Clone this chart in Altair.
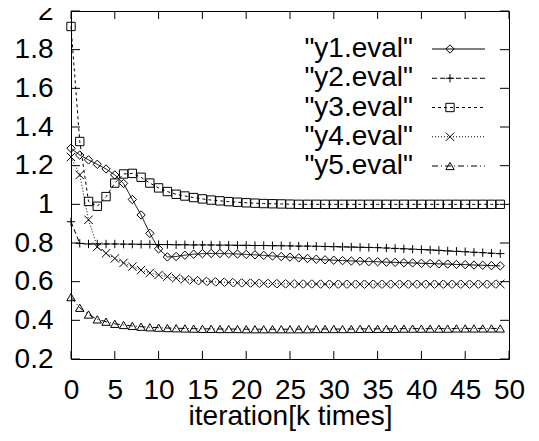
import altair as alt
import pandas as pd

iterations = list(range(50))

y1 = [1.29, 1.255, 1.23, 1.207, 1.183, 1.152, 1.108, 1.025, 0.945, 0.85,
      0.77, 0.728, 0.73, 0.737, 0.742, 0.745, 0.746, 0.746, 0.745, 0.743,
      0.741, 0.739, 0.736, 0.733, 0.73, 0.727, 0.723, 0.72, 0.716, 0.713,
      0.711, 0.709, 0.707, 0.706, 0.704, 0.703, 0.701, 0.7, 0.698, 0.697,
      0.695, 0.694, 0.692, 0.691, 0.689, 0.688, 0.686, 0.685, 0.683, 0.682]
y2 = [0.91, 0.798, 0.795, 0.795, 0.795, 0.795, 0.794, 0.794, 0.793, 0.793,
      0.792, 0.792, 0.791, 0.791, 0.79, 0.79, 0.79, 0.789, 0.789, 0.788,
      0.788, 0.787, 0.787, 0.786, 0.786, 0.785, 0.784, 0.784, 0.783, 0.782,
      0.781, 0.78, 0.779, 0.778, 0.777, 0.776, 0.774, 0.772, 0.77, 0.768,
      0.766, 0.764, 0.762, 0.759, 0.757, 0.755, 0.752, 0.75, 0.747, 0.745]
y3 = [1.92, 1.325, 1.015, 0.99, 1.04, 1.11, 1.157, 1.16, 1.14, 1.11,
      1.085, 1.066, 1.052, 1.043, 1.035, 1.028, 1.022, 1.018, 1.014, 1.011,
      1.008, 1.006, 1.004, 1.003, 1.002, 1.001, 1.0, 1.0, 1.0, 1.0,
      1.0, 1.0, 1.0, 1.0, 1.0, 1.0, 1.0, 1.0, 1.0, 1.0,
      1.0, 1.0, 1.0, 1.0, 1.0, 1.0, 1.0, 1.0, 1.0, 1.0]
y4 = [1.245, 1.152, 0.92, 0.78, 0.747, 0.72, 0.697, 0.678, 0.66, 0.645,
      0.635, 0.626, 0.618, 0.612, 0.607, 0.603, 0.6, 0.598, 0.596, 0.594,
      0.593, 0.592, 0.591, 0.59, 0.589, 0.589, 0.588, 0.588, 0.588, 0.587,
      0.587, 0.587, 0.587, 0.587, 0.587, 0.587, 0.587, 0.587, 0.587, 0.587,
      0.587, 0.587, 0.587, 0.587, 0.587, 0.587, 0.587, 0.587, 0.587, 0.588]
y5 = [0.52, 0.465, 0.43, 0.405, 0.393, 0.382, 0.376, 0.371, 0.367, 0.364,
      0.362, 0.36, 0.359, 0.358, 0.357, 0.356, 0.356, 0.355, 0.355, 0.355,
      0.354, 0.354, 0.354, 0.354, 0.354, 0.354, 0.354, 0.354, 0.355, 0.355,
      0.355, 0.355, 0.355, 0.356, 0.356, 0.356, 0.356, 0.356, 0.357, 0.357,
      0.357, 0.357, 0.357, 0.357, 0.358, 0.358, 0.358, 0.358, 0.358, 0.358]

series_names = ['"y1.eval"', '"y2.eval"', '"y3.eval"', '"y4.eval"', '"y5.eval"']
x_ticks = list(range(0, 51, 5))
y_ticks = [0.2, 0.4, 0.6, 0.8, 1.0, 1.2, 1.4, 1.6, 1.8, 2.0]

rows = []
for name, vals in zip(series_names, [y1, y2, y3, y4, y5]):
    for it, v in zip(iterations, vals):
        rows.append({"iteration": it, "value": v, "series": name})
df = pd.DataFrame(rows)
legend_df = pd.DataFrame({"series": series_names})
xt_df = pd.DataFrame({"t": x_ticks})
yt_df = pd.DataFrame({"t": y_ticks})

W, H = 438, 348
FONT = "Liberation Sans"
FS = 28

shape_scale = alt.Scale(
    domain=series_names,
    range=["diamond", "M-1,0L1,0M0,-1L0,1", "square", "M-1,-1L1,1M-1,1L1,-1", "triangle-up"],
)
dash_scale = alt.Scale(domain=series_names, range=[[1, 0], [5, 3], [3, 3], [1, 2], [6, 3, 1, 3]])

xs = alt.Scale(domain=[0, 50], nice=False, zero=False)
ys = alt.Scale(domain=[0.2, 2.0], nice=False, zero=False)

x_axis = alt.Axis(values=x_ticks, title="iteration[k times]", domain=False, ticks=False, tickSize=0,
                  grid=False, labelPadding=17, labelFontSize=FS, titleFontSize=FS,
                  titleFontWeight="normal", labelFont=FONT, titleFont=FONT, labelColor="black",
                  titleColor="black", titlePadding=-2, labelFlush=False, labelOverlap=False)
y_axis = alt.Axis(values=y_ticks, title=None, domain=False, ticks=False, tickSize=0, grid=False,
                  labelPadding=18, labelFontSize=FS, labelFont=FONT, labelColor="black",
                  labelFlush=False, labelOverlap=False, format="~g")

lines = alt.Chart(df).mark_line(color="black", strokeWidth=1).encode(
    x=alt.X("iteration:Q", scale=xs, axis=x_axis),
    y=alt.Y("value:Q", scale=ys, axis=y_axis),
    strokeDash=alt.StrokeDash("series:N", scale=dash_scale, legend=None),
    detail="series:N",
)
points = alt.Chart(df).mark_point(filled=False, color="black", strokeWidth=1, size=70, opacity=1).encode(
    x=alt.X("iteration:Q", scale=xs, axis=x_axis),
    y=alt.Y("value:Q", scale=ys, axis=y_axis),
    shape=alt.Shape("series:N", scale=shape_scale, legend=None),
)

tick_style = dict(color="black", strokeWidth=1)
xt_bottom = alt.Chart(xt_df).mark_rule(**tick_style).encode(
    x=alt.X("t:Q", scale=xs, axis=x_axis), y=alt.value(H), y2=alt.value(H - 8))
xt_top = alt.Chart(xt_df).mark_rule(**tick_style).encode(
    x=alt.X("t:Q", scale=xs, axis=x_axis), y=alt.value(0), y2=alt.value(8))
yt_left = alt.Chart(yt_df).mark_rule(**tick_style).encode(
    y=alt.Y("t:Q", scale=ys, axis=y_axis), x=alt.value(0), x2=alt.value(9))
yt_right = alt.Chart(yt_df).mark_rule(**tick_style).encode(
    y=alt.Y("t:Q", scale=ys, axis=y_axis), x=alt.value(W), x2=alt.value(W - 9))

main = alt.layer(lines, points, xt_bottom, xt_top, yt_left, yt_right)

ly = alt.Y("series:N", scale=alt.Scale(type="point", domain=series_names, range=[38, 155], padding=0), axis=None)
leg_text = alt.Chart(legend_df).mark_text(align="right", baseline="middle", fontSize=FS, font=FONT,
                                          color="black").encode(
    x=alt.value(342), y=ly, text="series:N")
leg_line = alt.Chart(legend_df).mark_rule(color="black", strokeWidth=1).encode(
    x=alt.value(361), x2=alt.value(414), y=ly,
    strokeDash=alt.StrokeDash("series:N", scale=dash_scale, legend=None))
leg_pts = alt.Chart(legend_df).mark_point(filled=False, color="black", strokeWidth=1, size=70, opacity=1).encode(
    x=alt.value(379), y=ly,
    shape=alt.Shape("series:N", scale=shape_scale, legend=None))
legend = alt.layer(leg_text, leg_line, leg_pts)

chart = alt.layer(main, legend).resolve_scale(y="independent").properties(
    width=W, height=H,
    autosize=alt.AutoSizeParams(type="none"),
    padding={"left": 63, "top": 3, "right": 22, "bottom": 74},
    background="white",
).configure_view(stroke="black", strokeWidth=1).configure_axis(labelOverlap=False)

chart.save("out.html", embed_options={"renderer": "svg", "actions": False})
